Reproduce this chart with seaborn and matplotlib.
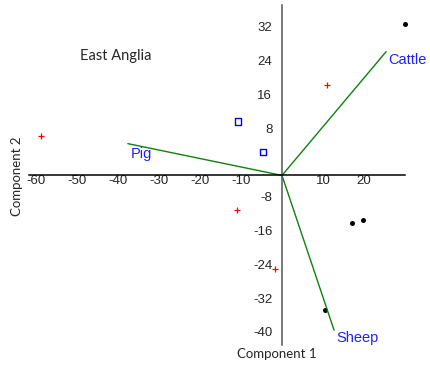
import matplotlib
matplotlib.use("Agg")
import matplotlib.pyplot as plt
import matplotlib.transforms as mtransforms
import seaborn as sns

# PCA scores, grouped by marker
red_x = [-58.8, 11.0, -11.0, -1.7]
red_y = [9.2, 21.4, -8.2, -22.1]
blue_x = [-10.7, -4.6]
blue_y = [12.7, 5.6]
black_x = [30.0, 17.0, 19.7, 10.5]
black_y = [35.8, -11.3, -10.6, -31.8]

# loadings (biplot vectors)
vec_names = ["Cattle", "Pig", "Sheep"]
vec_x = [25.4, -37.6, 12.7]
vec_y = [29.2, 7.5, -36.5]
lab_x = [26.0, -37.0, 13.2]
lab_y = [27.3, 5.0, -38.4]

x_ticks = [-60, -50, -40, -30, -20, -10, 10, 20]
y_ticks = [32, 24, 16, 8, -8, -16, -24, -32, -40]

sns.set_style("white")
plt.rcParams['font.family'] = ['Liberation Sans', 'DejaVu Sans']
plt.rcParams['axes.unicode_minus'] = False

fig = plt.figure(figsize=(4.3, 3.67), dpi=100)
ax = fig.add_axes([29 / 430, 1 - 345 / 367, (405 - 29) / 430, 340 / 367])
ax.set_xlim(-61.7, 30.0)
ax.set_ylim(-40.0, 40.2)

for vx, vy in zip(vec_x, vec_y):
    sns.lineplot(x=[0, vx], y=[0, vy], sort=False, estimator=None,
                 color="#108010", linewidth=1.0, ax=ax)
for name, tx, ty in zip(vec_names, lab_x, lab_y):
    ax.text(tx, ty, name, color="#2020ff", fontsize=10.5, ha="left", va="center")

sns.scatterplot(x=red_x, y=red_y, marker="+", color="red", s=16,
                linewidth=0.9, ax=ax, clip_on=False)
sns.scatterplot(x=blue_x, y=blue_y, marker="s", facecolor="none",
                edgecolor="blue", s=20, linewidth=1.0, ax=ax, clip_on=False)
sns.scatterplot(x=black_x, y=black_y, marker="o", color="black", s=13,
                linewidth=0, ax=ax, clip_on=False)

# axes through the origin
for side in ["top", "right"]:
    ax.spines[side].set_visible(False)
ax.spines["left"].set_position(("data", 0))
ax.spines["bottom"].set_position(("data", 0))
ax.spines["bottom"].set_color("black")
ax.spines["left"].set_color("#555555")
ax.spines["bottom"].set_linewidth(1.1)
ax.spines["left"].set_linewidth(1.1)

ax.set_xticks(x_ticks)
ax.set_yticks(y_ticks)
ax.tick_params(axis="x", length=0, pad=0, labelsize=9.5)
ax.tick_params(axis="y", direction="out", length=4, width=1, color="#555555",
               pad=3, labelsize=9.5)
shift = mtransforms.ScaledTranslation(0, 13 / 100, fig.dpi_scale_trans)
for lbl in ax.get_yticklabels():
    lbl.set_transform(lbl.get_transform() + shift)

ax.text(-40.5, 28.2, "East Anglia", fontsize=10.5, family=["Lato", "DejaVu Sans"],
        ha="center", va="center")
fig.text(277 / 430, 1 - 354 / 367, "Component 1", fontsize=9.5,
         family=["Lato", "DejaVu Sans"], ha="center", va="center")
fig.text(17 / 430, 1 - 176 / 367, "Component 2", fontsize=9.5, rotation=90,
         family=["Lato", "DejaVu Sans"], ha="center", va="center")

fig.savefig("out.png", dpi=100)
